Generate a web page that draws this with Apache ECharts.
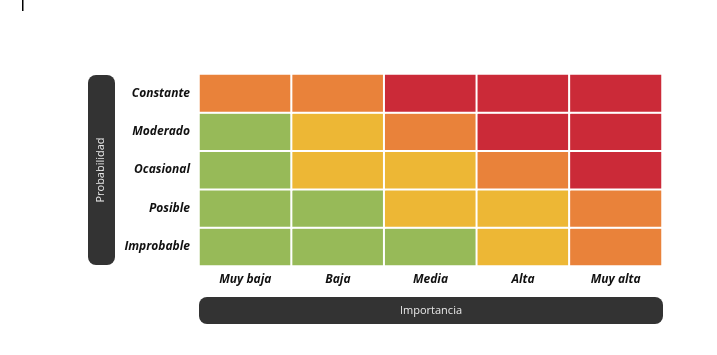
<!DOCTYPE html>
<html>
<head>
<meta charset="utf-8">
<style>html,body{margin:0;padding:0;background:#fff;}#c{width:717px;height:355px;}</style>
<script src="https://cdn.jsdelivr.net/npm/echarts@6/dist/echarts.min.js"></script>
</head>
<body>
<div id="c"></div>
<script>
const importancia = ['Muy baja', 'Baja', 'Media', 'Alta', 'Muy alta'];
const probabilidad = ['Improbable', 'Posible', 'Ocasional', 'Moderado', 'Constante'];
// risk level per row (bottom to top), per column: 1 green, 2 yellow, 3 orange, 4 red
const improbable = [1, 1, 1, 2, 3];
const posible    = [1, 1, 2, 2, 3];
const ocasional  = [1, 2, 2, 3, 4];
const moderado   = [1, 2, 3, 4, 4];
const constante  = [3, 3, 4, 4, 4];
const rows = [improbable, posible, ocasional, moderado, constante];

const data = [];
rows.forEach((r, yi) => r.forEach((v, xi) => data.push([xi, yi, v])));

const chart = echarts.init(document.getElementById('c'));
const labelFont = { fontFamily: 'Open Sans', fontWeight: 'bold', fontStyle: 'italic', fontSize: 12, color: '#111' };
chart.setOption({
  animation: false,
  grid: { left: 199, right: 55, top: 74, bottom: 89 },
  xAxis: {
    type: 'category', data: importancia,
    axisLine: { show: false }, axisTick: { show: false }, splitLine: { show: false },
    axisLabel: Object.assign({ margin: 8 }, labelFont)
  },
  yAxis: {
    type: 'category', data: probabilidad,
    axisLine: { show: false }, axisTick: { show: false }, splitLine: { show: false },
    axisLabel: Object.assign({ margin: 9 }, labelFont)
  },
  visualMap: {
    show: false, type: 'piecewise', dimension: 2,
    pieces: [
      { value: 1, color: '#97BA58' },
      { value: 2, color: '#EDB735' },
      { value: 3, color: '#E9823A' },
      { value: 4, color: '#CB2A38' }
    ]
  },
  series: [{
    type: 'heatmap', data: data,
    itemStyle: { borderColor: '#fff', borderWidth: 2 },
    emphasis: { disabled: true }
  }],
  graphic: [
    { type: 'rect', shape: { x: 22, y: 0, width: 1.5, height: 11 }, style: { fill: '#000' } },
    { type: 'rect', shape: { x: 88, y: 75, width: 27, height: 190, r: 8 }, style: { fill: '#333333' } },
    { type: 'text', x: 101, y: 170, rotation: Math.PI / 2,
      style: { text: 'Probabilidad', fill: '#e8e8e8', font: '11px "Open Sans"', align: 'center', verticalAlign: 'middle' } },
    { type: 'rect', shape: { x: 199, y: 297, width: 464, height: 27, r: 8 }, style: { fill: '#333333' } },
    { type: 'text', x: 431, y: 311,
      style: { text: 'Importancia', fill: '#e8e8e8', font: '11px "Open Sans"', align: 'center', verticalAlign: 'middle' } }
  ]
});
</script>
</body>
</html>
